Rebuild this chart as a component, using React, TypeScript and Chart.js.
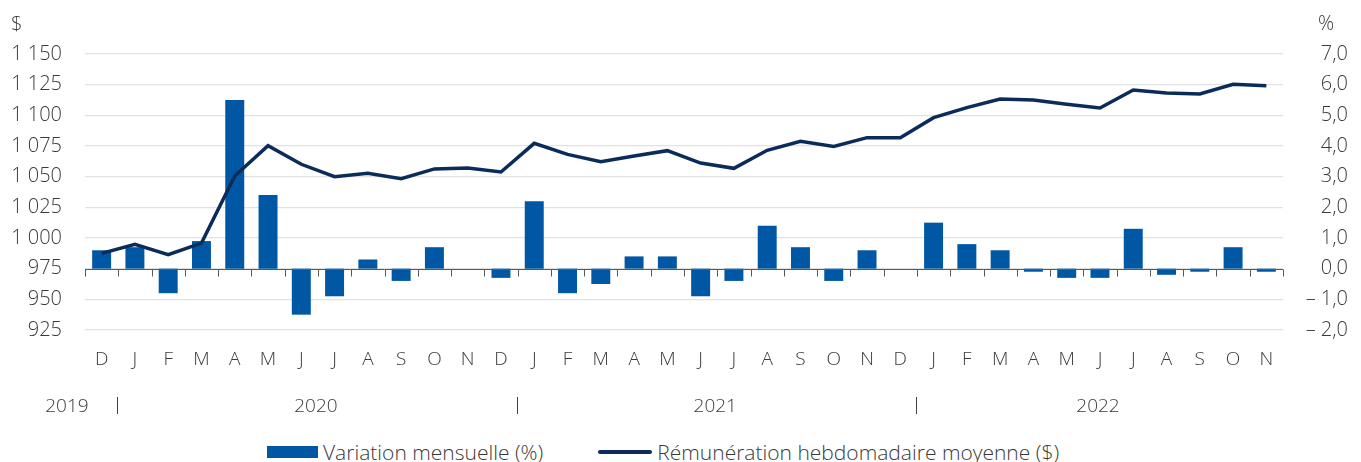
import React, { useEffect, useRef } from "react";
import { Chart, registerables } from "chart.js";

Chart.register(...registerables);

const months = ["D","J","F","M","A","M","J","J","A","S","O","N","D","J","F","M","A","M","J","J","A","S","O","N","D","J","F","M","A","M","J","J","A","S","O","N"];

const variation = [0.6, 0.7, -0.8, 0.9, 5.5, 2.4, -1.5, -0.9, 0.3, -0.4, 0.7, 0.0,
  -0.3, 2.2, -0.8, -0.5, 0.4, 0.4, -0.9, -0.4, 1.4, 0.7, -0.4, 0.6,
  0.0, 1.5, 0.8, 0.6, -0.1, -0.3, -0.3, 1.3, -0.2, -0.1, 0.7, -0.1];

const earnings = [987.5, 994.8, 986.4, 995.9, 1050.5, 1075.3, 1060.1, 1050.0, 1052.7, 1048.4, 1056.3, 1057.0,
  1053.8, 1077.2, 1068.2, 1062.2, 1066.8, 1071.2, 1061.1, 1056.8, 1071.5, 1078.8, 1074.7, 1081.8,
  1081.8, 1098.1, 1106.3, 1113.3, 1112.5, 1109.0, 1106.0, 1120.7, 1118.2, 1117.4, 1125.3, 1124.2];

const years = ["2019", "2020", "2021", "2022"];
const yearStart = [0, 1, 13, 25];
const yearEnd = [0, 12, 24, 35];

const seriesBarLabel = "Variation mensuelle (%)";
const seriesLineLabel = "Rémunération hebdomadaire moyenne ($)";

const BAR_COLOR = "#0058a4";
const LINE_COLOR = "#0b2c5a";
const TEXT_COLOR = "#3a3a3a";
const FONT = "'Open Sans', sans-serif";
const WEIGHT = 300;

const fmtDollar = (v: number) => {
  const s = String(Math.round(v));
  return s.length > 3 ? s.slice(0, s.length - 3) + " " + s.slice(-3) : s;
};
const fmtPct = (v: number) => {
  const a = Math.abs(v).toFixed(1).replace(".", ",");
  return v < -0.0001 ? "\u2013 " + a : a;
};

const decorPlugin = {
  id: "decor",
  afterDatasetsDraw(chart: any) {
    const { ctx, chartArea, scales } = chart;
    const xs = scales.x;
    const yr = scales.y1;
    const y0 = Math.round(yr.getPixelForValue(0)) + 0.5;
    ctx.save();
    ctx.strokeStyle = "#595959";
    ctx.lineWidth = 1;
    ctx.beginPath();
    ctx.moveTo(chartArea.left, y0);
    ctx.lineTo(chartArea.right, y0);
    for (let i = 0; i <= months.length; i++) {
      const x = Math.round(xs.getPixelForValue(i - 0.5)) + 0.5;
      ctx.moveTo(x, y0);
      ctx.lineTo(x, y0 + 7);
    }
    ctx.stroke();
    ctx.restore();
  },
  afterDraw(chart: any) {
    const { ctx, scales } = chart;
    const xs = scales.x;
    ctx.save();
    ctx.fillStyle = TEXT_COLOR;
    ctx.font = `${WEIGHT} 20px ${FONT}`;
    ctx.textBaseline = "middle";
    ctx.textAlign = "left";
    ctx.fillText("$", 11, 25);
    ctx.fillText("%", 1318, 24);

    ctx.font = `${WEIGHT} 19px ${FONT}`;
    const yy = 407;
    years.forEach((yrLabel, i) => {
      if (yearStart[i] === yearEnd[i]) {
        ctx.textAlign = "right";
        ctx.fillText(yrLabel, xs.getPixelForValue(yearStart[i]) - 13, yy);
      } else {
        ctx.textAlign = "center";
        ctx.fillText(yrLabel, xs.getPixelForValue((yearStart[i] + yearEnd[i]) / 2) - 2, yy);
      }
      if (i > 0) {
        const x = Math.round(xs.getPixelForValue(yearStart[i] - 0.5)) - 0.5;
        ctx.strokeStyle = "#404040";
        ctx.lineWidth = 1;
        ctx.beginPath();
        ctx.moveTo(x, 397);
        ctx.lineTo(x, 414);
        ctx.stroke();
      }
    });
    ctx.restore();
  },
};

export default function App() {
  const ref = useRef<HTMLCanvasElement>(null);
  useEffect(() => {
    if (!ref.current) return;
    const chart = new Chart(ref.current, {
      type: "bar",
      data: {
        labels: months,
        datasets: [
          {
            type: "line",
            label: seriesLineLabel,
            data: earnings,
            yAxisID: "y",
            borderColor: LINE_COLOR,
            backgroundColor: LINE_COLOR,
            borderWidth: 3.5,
            pointRadius: 0,
            tension: 0,
            order: 0,
          } as any,
          {
            type: "bar",
            label: seriesBarLabel,
            data: variation,
            yAxisID: "y1",
            backgroundColor: BAR_COLOR,
            barPercentage: 0.57,
            categoryPercentage: 1,
            order: 1,
          },
        ],
      },
      options: {
        responsive: false,
        animation: false,
        layout: { padding: { top: 54, right: 13, left: 0, bottom: 0 } },
        plugins: { legend: { display: false }, tooltip: { enabled: false } },
        scales: {
          x: {
            grid: { display: false, drawTicks: false },
            border: { display: false },
            ticks: {
              color: TEXT_COLOR,
              font: { family: FONT, size: 19, weight: WEIGHT },
              padding: 18,
              maxRotation: 0,
              autoSkip: false,
            },
            afterFit: (s: any) => { s.height = 100; },
          },
          y: {
            position: "left",
            min: 925,
            max: 1150,
            grid: {
              color: "#e2e2e2",
              lineWidth: 1.2,
              drawTicks: false,
            },
            border: { display: false },
            ticks: {
              stepSize: 25,
              padding: 23,
              color: TEXT_COLOR,
              font: { family: FONT, size: 20, weight: WEIGHT },
              callback: (v: any) => fmtDollar(Number(v)),
            },
            afterFit: (s: any) => { s.width = 85; },
          },
          y1: {
            position: "right",
            min: -2,
            max: 7,
            grid: { display: false, drawTicks: false },
            border: { display: false },
            ticks: {
              stepSize: 1,
              crossAlign: "far",
              color: TEXT_COLOR,
              font: { family: FONT, size: 20, weight: WEIGHT },
              callback: (v: any) => fmtPct(Number(v)),
            },
            afterFit: (s: any) => { s.width = 65; },
          },
        },
      },
      plugins: [decorPlugin],
    } as any);
    return () => chart.destroy();
  }, []);

  return (
    <div style={{ position: "absolute", left: 0, top: 0, width: 1361, height: 462, background: "#fff", fontFamily: FONT, fontWeight: WEIGHT }}>
      <canvas ref={ref} width={1361} height={430} style={{ display: "block" }} />
      <div
        style={{
          position: "absolute",
          left: 267,
          top: 440,
          height: 24,
          display: "flex",
          alignItems: "center",
          fontSize: 21,
          color: TEXT_COLOR,
          whiteSpace: "nowrap",
          lineHeight: "24px",
        }}
      >
        <span style={{ display: "inline-block", width: 51, height: 12, background: BAR_COLOR, marginRight: 5 }} />
        <span>{seriesBarLabel}</span>
        <span style={{ display: "inline-block", width: 54, height: 4, background: LINE_COLOR, borderRadius: 2, marginLeft: 55, marginRight: 5 }} />
        <span>{seriesLineLabel}</span>
      </div>
    </div>
  );
}
